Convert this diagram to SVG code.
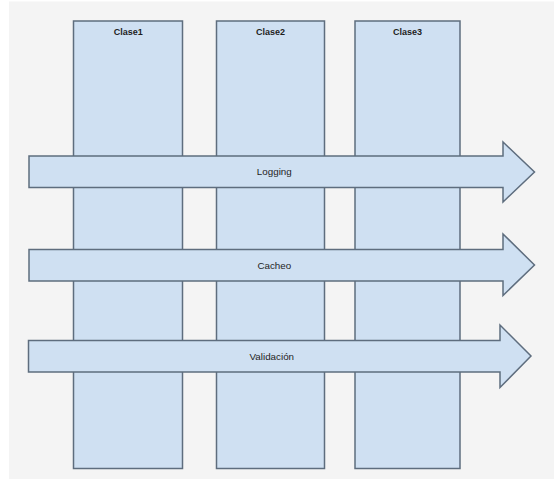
<svg xmlns="http://www.w3.org/2000/svg" width="554" height="480" viewBox="0 0 554 480">
<style>
.box{fill:#cfe0f2;stroke:#5e6d7e;stroke-width:1.5}
.arr{fill:#cfe0f2;stroke:#5e6d7e;stroke-width:1.5;stroke-linejoin:miter}
.t{font-family:"Liberation Sans",Arial,sans-serif;font-size:9.8px;fill:#1e1e1e;text-anchor:middle}
.b{font-weight:bold;font-size:9px}
</style>
<rect x="0" y="0" width="554" height="480" fill="#ffffff"/>
<rect x="9" y="1.5" width="545" height="477.5" fill="#f4f4f4"/>
<g id="clase1">
<rect class="box" x="73.5" y="21" width="109" height="447.5"/>
<text class="t b" x="128.3" y="34.5">Clase1</text>
</g>
<g id="clase2">
<rect class="box" x="216.5" y="21" width="108" height="447.5"/>
<text class="t b" x="270.5" y="34.5">Clase2</text>
</g>
<g id="clase3">
<rect class="box" x="355" y="21" width="105" height="447.5"/>
<text class="t b" x="407.5" y="34.5">Clase3</text>
</g>
<g id="connectors">
<g id="logging">
<path class="arr" d="M29,156 H503 V142 L534.5,172 L503,202 V187.5 H29 Z"/>
<text class="t" x="274.3" y="175.3">Logging</text>
</g>
<g id="cacheo">
<path class="arr" d="M29,249.5 H503 V234 L534.5,265 L503,295.5 V281 H29 Z"/>
<text class="t" x="274.3" y="268.6">Cacheo</text>
</g>
<g id="validacion">
<path class="arr" d="M28.5,340.5 H500 V325 L531,356 L500,387.5 V372 H28.5 Z"/>
<text class="t" x="271.8" y="359.6">Validación</text>
</g>
</g>
</svg>
